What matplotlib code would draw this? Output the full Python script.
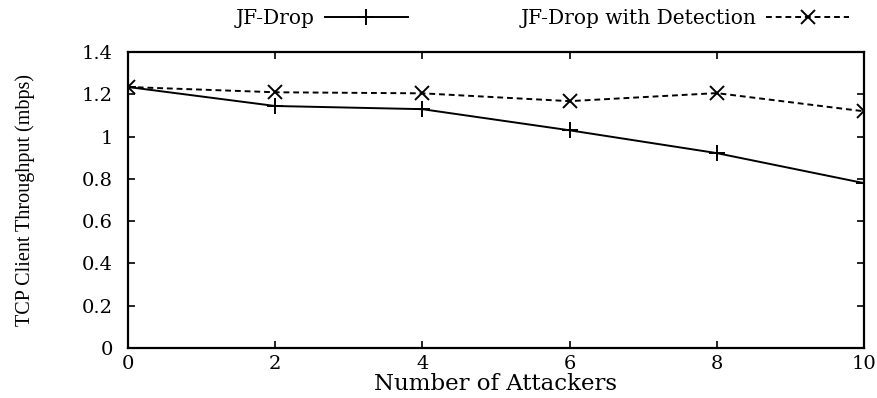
import matplotlib
matplotlib.use('Agg')
import matplotlib.pyplot as plt

plt.rcParams['font.family'] = ['DejaVu Serif']

attackers = [0, 2, 4, 6, 8, 10]
jf_drop = [1.235, 1.145, 1.13, 1.03, 0.922, 0.78]
jf_drop_det = [1.235, 1.21, 1.205, 1.168, 1.206, 1.12]

fig = plt.figure(figsize=(8.77, 3.98), dpi=100)
ax = fig.add_axes([0.146, 0.126, 0.839, 0.743])

ax.plot(attackers, jf_drop, color='black', lw=1.4, marker='+', ms=12, mew=1.4,
        label='JF-Drop')
ax.plot(attackers, jf_drop_det, color='black', lw=1.4, ls=(0, (3, 2)), marker='x',
        ms=10, mew=1.4, label='JF-Drop with Detection')

ax.set_xlim(0, 10)
ax.set_ylim(0, 1.4)
ax.set_xticks(attackers)
ax.set_yticks([0, 0.2, 0.4, 0.6, 0.8, 1, 1.2, 1.4])
ax.set_yticklabels(['0', '0.2', '0.4', '0.6', '0.8', '1', '1.2', '1.4'])
ax.tick_params(direction='in', top=True, right=True, length=5, width=1.2,
               labelsize=14)
ax.tick_params(axis='y', pad=11)
ax.tick_params(axis='x', pad=5)
for s in ax.spines.values():
    s.set_linewidth(1.6)

ax.set_xlabel('Number of Attackers', fontsize=16.5, labelpad=0)
ax.set_ylabel('TCP Client Throughput (mbps)', fontsize=14.5,
              family='Liberation Serif')
ax.yaxis.set_label_coords(-0.126, 0.5)

fig.legend(loc='upper left', bbox_to_anchor=(236 / 877, 0.978), borderaxespad=0,
           borderpad=0, ncol=2, frameon=False, markerfirst=False, fontsize=14.5,
           handlelength=4.1, handletextpad=0.5, columnspacing=5.6)

fig.savefig('out.png', dpi=100)
